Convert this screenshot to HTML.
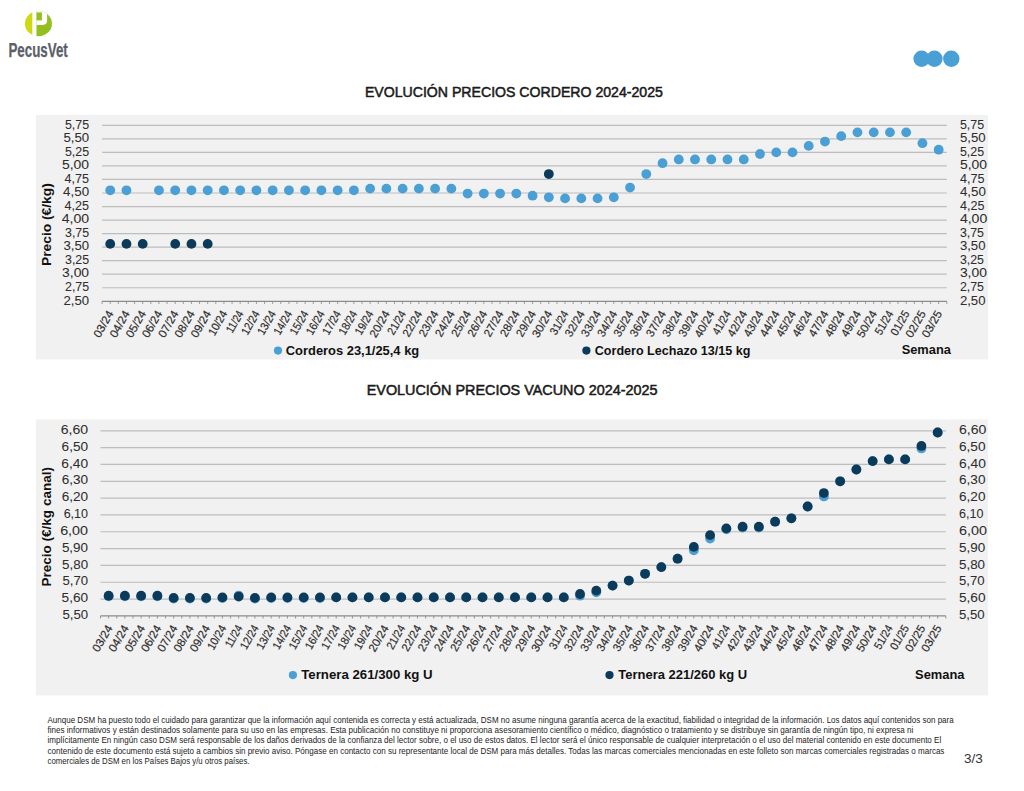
<!DOCTYPE html>
<html><head><meta charset="utf-8"><title>PecusVet</title>
<style>html,body{margin:0;padding:0;background:#fff;width:1024px;height:791px;overflow:hidden;}</style>
</head><body>
<svg width="1024" height="791" viewBox="0 0 1024 791" style="position:absolute;left:0;top:0" font-family="'Liberation Sans', sans-serif">
<rect width="1024" height="791" fill="#ffffff"/>
<defs><clipPath id="lc"><ellipse cx="38.45" cy="23.7" rx="13.5" ry="12.6"/></clipPath></defs>
<g clip-path="url(#lc)">
<rect x="20" y="5" width="12.3" height="40" fill="#cfd90f"/>
<rect x="36.5" y="5" width="20" height="40" fill="#93c020"/>
<path d="M36.5 5 H47.1 V20.5 Q47.1 24.9 42.7 24.9 H36.5 Z" fill="#ffffff"/>
<rect x="36.5" y="12.4" width="5.4" height="8" fill="#93c020"/>
</g>
<text x="8.4" y="56.6" font-size="20" font-weight="bold" fill="#5b6068" stroke="#5b6068" stroke-width="0.25" textLength="59.4" lengthAdjust="spacingAndGlyphs">PecusVet</text>
<circle cx="921.6" cy="58.8" r="8.2" fill="#4a9fd4"/>
<circle cx="934.4" cy="58.8" r="8.2" fill="#4a9fd4"/>
<circle cx="951.3" cy="58.8" r="8.2" fill="#4a9fd4"/>
<text x="364.90" y="96.60" font-size="14" font-weight="normal" text-anchor="start" fill="#1a1a1a" textLength="298" lengthAdjust="spacingAndGlyphs" stroke="#1a1a1a" stroke-width="0.5">EVOLUCIÓN PRECIOS CORDERO 2024-2025</text>
<text x="366.70" y="394.60" font-size="14" font-weight="normal" text-anchor="start" fill="#1a1a1a" textLength="290.8" lengthAdjust="spacingAndGlyphs" stroke="#1a1a1a" stroke-width="0.5">EVOLUCIÓN PRECIOS VACUNO 2024-2025</text>
<rect x="36" y="115" width="952" height="244.5" fill="#f1f1f1"/>
<line x1="102.10" y1="287.76" x2="946.80" y2="287.76" stroke="#bdbdbd" stroke-width="1.2"/>
<line x1="102.10" y1="274.22" x2="946.80" y2="274.22" stroke="#bdbdbd" stroke-width="1.2"/>
<line x1="102.10" y1="260.68" x2="946.80" y2="260.68" stroke="#bdbdbd" stroke-width="1.2"/>
<line x1="102.10" y1="247.15" x2="946.80" y2="247.15" stroke="#bdbdbd" stroke-width="1.2"/>
<line x1="102.10" y1="233.61" x2="946.80" y2="233.61" stroke="#bdbdbd" stroke-width="1.2"/>
<line x1="102.10" y1="220.07" x2="946.80" y2="220.07" stroke="#bdbdbd" stroke-width="1.2"/>
<line x1="102.10" y1="206.53" x2="946.80" y2="206.53" stroke="#bdbdbd" stroke-width="1.2"/>
<line x1="102.10" y1="192.99" x2="946.80" y2="192.99" stroke="#bdbdbd" stroke-width="1.2"/>
<line x1="102.10" y1="179.45" x2="946.80" y2="179.45" stroke="#bdbdbd" stroke-width="1.2"/>
<line x1="102.10" y1="165.92" x2="946.80" y2="165.92" stroke="#bdbdbd" stroke-width="1.2"/>
<line x1="102.10" y1="152.38" x2="946.80" y2="152.38" stroke="#bdbdbd" stroke-width="1.2"/>
<line x1="102.10" y1="138.84" x2="946.80" y2="138.84" stroke="#bdbdbd" stroke-width="1.2"/>
<line x1="102.10" y1="125.30" x2="946.80" y2="125.30" stroke="#bdbdbd" stroke-width="1.2"/>
<line x1="102.10" y1="301.30" x2="946.80" y2="301.30" stroke="#8c8c8c" stroke-width="1.2"/>
<path d="M102.10 301.30v2.6 M110.22 301.30v2.6 M118.34 301.30v2.6 M126.47 301.30v2.6 M134.59 301.30v2.6 M142.71 301.30v2.6 M150.83 301.30v2.6 M158.95 301.30v2.6 M167.08 301.30v2.6 M175.20 301.30v2.6 M183.32 301.30v2.6 M191.44 301.30v2.6 M199.57 301.30v2.6 M207.69 301.30v2.6 M215.81 301.30v2.6 M223.93 301.30v2.6 M232.05 301.30v2.6 M240.18 301.30v2.6 M248.30 301.30v2.6 M256.42 301.30v2.6 M264.54 301.30v2.6 M272.66 301.30v2.6 M280.79 301.30v2.6 M288.91 301.30v2.6 M297.03 301.30v2.6 M305.15 301.30v2.6 M313.27 301.30v2.6 M321.40 301.30v2.6 M329.52 301.30v2.6 M337.64 301.30v2.6 M345.76 301.30v2.6 M353.89 301.30v2.6 M362.01 301.30v2.6 M370.13 301.30v2.6 M378.25 301.30v2.6 M386.37 301.30v2.6 M394.50 301.30v2.6 M402.62 301.30v2.6 M410.74 301.30v2.6 M418.86 301.30v2.6 M426.98 301.30v2.6 M435.11 301.30v2.6 M443.23 301.30v2.6 M451.35 301.30v2.6 M459.47 301.30v2.6 M467.60 301.30v2.6 M475.72 301.30v2.6 M483.84 301.30v2.6 M491.96 301.30v2.6 M500.08 301.30v2.6 M508.21 301.30v2.6 M516.33 301.30v2.6 M524.45 301.30v2.6 M532.57 301.30v2.6 M540.69 301.30v2.6 M548.82 301.30v2.6 M556.94 301.30v2.6 M565.06 301.30v2.6 M573.18 301.30v2.6 M581.30 301.30v2.6 M589.43 301.30v2.6 M597.55 301.30v2.6 M605.67 301.30v2.6 M613.79 301.30v2.6 M621.92 301.30v2.6 M630.04 301.30v2.6 M638.16 301.30v2.6 M646.28 301.30v2.6 M654.40 301.30v2.6 M662.53 301.30v2.6 M670.65 301.30v2.6 M678.77 301.30v2.6 M686.89 301.30v2.6 M695.01 301.30v2.6 M703.14 301.30v2.6 M711.26 301.30v2.6 M719.38 301.30v2.6 M727.50 301.30v2.6 M735.62 301.30v2.6 M743.75 301.30v2.6 M751.87 301.30v2.6 M759.99 301.30v2.6 M768.11 301.30v2.6 M776.24 301.30v2.6 M784.36 301.30v2.6 M792.48 301.30v2.6 M800.60 301.30v2.6 M808.72 301.30v2.6 M816.85 301.30v2.6 M824.97 301.30v2.6 M833.09 301.30v2.6 M841.21 301.30v2.6 M849.33 301.30v2.6 M857.46 301.30v2.6 M865.58 301.30v2.6 M873.70 301.30v2.6 M881.82 301.30v2.6 M889.95 301.30v2.6 M898.07 301.30v2.6 M906.19 301.30v2.6 M914.31 301.30v2.6 M922.43 301.30v2.6 M930.56 301.30v2.6 M938.68 301.30v2.6 M946.80 301.30v2.6" stroke="#8c8c8c" stroke-width="0.9" fill="none"/>
<text x="89.10" y="304.50" font-size="12.5" font-weight="normal" text-anchor="end" fill="#2e2e2e" textLength="25.6" lengthAdjust="spacingAndGlyphs" stroke="#2e2e2e" stroke-width="0.05">2,50</text>
<text x="959.90" y="304.50" font-size="12.5" font-weight="normal" text-anchor="start" fill="#2e2e2e" textLength="25.6" lengthAdjust="spacingAndGlyphs" stroke="#2e2e2e" stroke-width="0.05">2,50</text>
<text x="89.10" y="290.96" font-size="12.5" font-weight="normal" text-anchor="end" fill="#2e2e2e" textLength="24.1" lengthAdjust="spacingAndGlyphs" stroke="#2e2e2e" stroke-width="0.05">2,75</text>
<text x="959.90" y="290.96" font-size="12.5" font-weight="normal" text-anchor="start" fill="#2e2e2e" textLength="24.1" lengthAdjust="spacingAndGlyphs" stroke="#2e2e2e" stroke-width="0.05">2,75</text>
<text x="89.10" y="277.42" font-size="12.5" font-weight="normal" text-anchor="end" fill="#2e2e2e" textLength="27.0" lengthAdjust="spacingAndGlyphs" stroke="#2e2e2e" stroke-width="0.05">3,00</text>
<text x="959.90" y="277.42" font-size="12.5" font-weight="normal" text-anchor="start" fill="#2e2e2e" textLength="27.0" lengthAdjust="spacingAndGlyphs" stroke="#2e2e2e" stroke-width="0.05">3,00</text>
<text x="89.10" y="263.88" font-size="12.5" font-weight="normal" text-anchor="end" fill="#2e2e2e" textLength="24.1" lengthAdjust="spacingAndGlyphs" stroke="#2e2e2e" stroke-width="0.05">3,25</text>
<text x="959.90" y="263.88" font-size="12.5" font-weight="normal" text-anchor="start" fill="#2e2e2e" textLength="24.1" lengthAdjust="spacingAndGlyphs" stroke="#2e2e2e" stroke-width="0.05">3,25</text>
<text x="89.10" y="250.35" font-size="12.5" font-weight="normal" text-anchor="end" fill="#2e2e2e" textLength="25.6" lengthAdjust="spacingAndGlyphs" stroke="#2e2e2e" stroke-width="0.05">3,50</text>
<text x="959.90" y="250.35" font-size="12.5" font-weight="normal" text-anchor="start" fill="#2e2e2e" textLength="25.6" lengthAdjust="spacingAndGlyphs" stroke="#2e2e2e" stroke-width="0.05">3,50</text>
<text x="89.10" y="236.81" font-size="12.5" font-weight="normal" text-anchor="end" fill="#2e2e2e" textLength="24.1" lengthAdjust="spacingAndGlyphs" stroke="#2e2e2e" stroke-width="0.05">3,75</text>
<text x="959.90" y="236.81" font-size="12.5" font-weight="normal" text-anchor="start" fill="#2e2e2e" textLength="24.1" lengthAdjust="spacingAndGlyphs" stroke="#2e2e2e" stroke-width="0.05">3,75</text>
<text x="89.10" y="223.27" font-size="12.5" font-weight="normal" text-anchor="end" fill="#2e2e2e" textLength="27.4" lengthAdjust="spacingAndGlyphs" stroke="#2e2e2e" stroke-width="0.05">4,00</text>
<text x="959.90" y="223.27" font-size="12.5" font-weight="normal" text-anchor="start" fill="#2e2e2e" textLength="27.4" lengthAdjust="spacingAndGlyphs" stroke="#2e2e2e" stroke-width="0.05">4,00</text>
<text x="89.10" y="209.73" font-size="12.5" font-weight="normal" text-anchor="end" fill="#2e2e2e" textLength="24.5" lengthAdjust="spacingAndGlyphs" stroke="#2e2e2e" stroke-width="0.05">4,25</text>
<text x="959.90" y="209.73" font-size="12.5" font-weight="normal" text-anchor="start" fill="#2e2e2e" textLength="24.5" lengthAdjust="spacingAndGlyphs" stroke="#2e2e2e" stroke-width="0.05">4,25</text>
<text x="89.10" y="196.19" font-size="12.5" font-weight="normal" text-anchor="end" fill="#2e2e2e" textLength="26.0" lengthAdjust="spacingAndGlyphs" stroke="#2e2e2e" stroke-width="0.05">4,50</text>
<text x="959.90" y="196.19" font-size="12.5" font-weight="normal" text-anchor="start" fill="#2e2e2e" textLength="26.0" lengthAdjust="spacingAndGlyphs" stroke="#2e2e2e" stroke-width="0.05">4,50</text>
<text x="89.10" y="182.65" font-size="12.5" font-weight="normal" text-anchor="end" fill="#2e2e2e" textLength="24.5" lengthAdjust="spacingAndGlyphs" stroke="#2e2e2e" stroke-width="0.05">4,75</text>
<text x="959.90" y="182.65" font-size="12.5" font-weight="normal" text-anchor="start" fill="#2e2e2e" textLength="24.5" lengthAdjust="spacingAndGlyphs" stroke="#2e2e2e" stroke-width="0.05">4,75</text>
<text x="89.10" y="169.12" font-size="12.5" font-weight="normal" text-anchor="end" fill="#2e2e2e" textLength="27.1" lengthAdjust="spacingAndGlyphs" stroke="#2e2e2e" stroke-width="0.05">5,00</text>
<text x="959.90" y="169.12" font-size="12.5" font-weight="normal" text-anchor="start" fill="#2e2e2e" textLength="27.1" lengthAdjust="spacingAndGlyphs" stroke="#2e2e2e" stroke-width="0.05">5,00</text>
<text x="89.10" y="155.58" font-size="12.5" font-weight="normal" text-anchor="end" fill="#2e2e2e" textLength="24.2" lengthAdjust="spacingAndGlyphs" stroke="#2e2e2e" stroke-width="0.05">5,25</text>
<text x="959.90" y="155.58" font-size="12.5" font-weight="normal" text-anchor="start" fill="#2e2e2e" textLength="24.2" lengthAdjust="spacingAndGlyphs" stroke="#2e2e2e" stroke-width="0.05">5,25</text>
<text x="89.10" y="142.04" font-size="12.5" font-weight="normal" text-anchor="end" fill="#2e2e2e" textLength="25.7" lengthAdjust="spacingAndGlyphs" stroke="#2e2e2e" stroke-width="0.05">5,50</text>
<text x="959.90" y="142.04" font-size="12.5" font-weight="normal" text-anchor="start" fill="#2e2e2e" textLength="25.7" lengthAdjust="spacingAndGlyphs" stroke="#2e2e2e" stroke-width="0.05">5,50</text>
<text x="89.10" y="128.50" font-size="12.5" font-weight="normal" text-anchor="end" fill="#2e2e2e" textLength="24.2" lengthAdjust="spacingAndGlyphs" stroke="#2e2e2e" stroke-width="0.05">5,75</text>
<text x="959.90" y="128.50" font-size="12.5" font-weight="normal" text-anchor="start" fill="#2e2e2e" textLength="24.2" lengthAdjust="spacingAndGlyphs" stroke="#2e2e2e" stroke-width="0.05">5,75</text>
<text transform="translate(106.92,309.40) rotate(-60)" x="0" y="8.2" font-size="11.5" text-anchor="end" fill="#2e2e2e" stroke="#2e2e2e" stroke-width="0.2" textLength="28.8" lengthAdjust="spacingAndGlyphs">03/24</text>
<text transform="translate(123.17,309.40) rotate(-60)" x="0" y="8.2" font-size="11.5" text-anchor="end" fill="#2e2e2e" stroke="#2e2e2e" stroke-width="0.2" textLength="28.8" lengthAdjust="spacingAndGlyphs">04/24</text>
<text transform="translate(139.41,309.40) rotate(-60)" x="0" y="8.2" font-size="11.5" text-anchor="end" fill="#2e2e2e" stroke="#2e2e2e" stroke-width="0.2" textLength="28.8" lengthAdjust="spacingAndGlyphs">05/24</text>
<text transform="translate(155.65,309.40) rotate(-60)" x="0" y="8.2" font-size="11.5" text-anchor="end" fill="#2e2e2e" stroke="#2e2e2e" stroke-width="0.2" textLength="28.8" lengthAdjust="spacingAndGlyphs">06/24</text>
<text transform="translate(171.90,309.40) rotate(-60)" x="0" y="8.2" font-size="11.5" text-anchor="end" fill="#2e2e2e" stroke="#2e2e2e" stroke-width="0.2" textLength="28.8" lengthAdjust="spacingAndGlyphs">07/24</text>
<text transform="translate(188.14,309.40) rotate(-60)" x="0" y="8.2" font-size="11.5" text-anchor="end" fill="#2e2e2e" stroke="#2e2e2e" stroke-width="0.2" textLength="28.8" lengthAdjust="spacingAndGlyphs">08/24</text>
<text transform="translate(204.39,309.40) rotate(-60)" x="0" y="8.2" font-size="11.5" text-anchor="end" fill="#2e2e2e" stroke="#2e2e2e" stroke-width="0.2" textLength="28.8" lengthAdjust="spacingAndGlyphs">09/24</text>
<text transform="translate(220.63,309.40) rotate(-60)" x="0" y="8.2" font-size="11.5" text-anchor="end" fill="#2e2e2e" stroke="#2e2e2e" stroke-width="0.2" textLength="26.5" lengthAdjust="spacingAndGlyphs">10/24</text>
<text transform="translate(236.88,309.40) rotate(-60)" x="0" y="8.2" font-size="11.5" text-anchor="end" fill="#2e2e2e" stroke="#2e2e2e" stroke-width="0.2" textLength="23.4" lengthAdjust="spacingAndGlyphs">11/24</text>
<text transform="translate(253.12,309.40) rotate(-60)" x="0" y="8.2" font-size="11.5" text-anchor="end" fill="#2e2e2e" stroke="#2e2e2e" stroke-width="0.2" textLength="25.7" lengthAdjust="spacingAndGlyphs">12/24</text>
<text transform="translate(269.36,309.40) rotate(-60)" x="0" y="8.2" font-size="11.5" text-anchor="end" fill="#2e2e2e" stroke="#2e2e2e" stroke-width="0.2" textLength="25.7" lengthAdjust="spacingAndGlyphs">13/24</text>
<text transform="translate(285.61,309.40) rotate(-60)" x="0" y="8.2" font-size="11.5" text-anchor="end" fill="#2e2e2e" stroke="#2e2e2e" stroke-width="0.2" textLength="25.7" lengthAdjust="spacingAndGlyphs">14/24</text>
<text transform="translate(301.85,309.40) rotate(-60)" x="0" y="8.2" font-size="11.5" text-anchor="end" fill="#2e2e2e" stroke="#2e2e2e" stroke-width="0.2" textLength="25.7" lengthAdjust="spacingAndGlyphs">15/24</text>
<text transform="translate(318.10,309.40) rotate(-60)" x="0" y="8.2" font-size="11.5" text-anchor="end" fill="#2e2e2e" stroke="#2e2e2e" stroke-width="0.2" textLength="25.7" lengthAdjust="spacingAndGlyphs">16/24</text>
<text transform="translate(334.34,309.40) rotate(-60)" x="0" y="8.2" font-size="11.5" text-anchor="end" fill="#2e2e2e" stroke="#2e2e2e" stroke-width="0.2" textLength="25.7" lengthAdjust="spacingAndGlyphs">17/24</text>
<text transform="translate(350.59,309.40) rotate(-60)" x="0" y="8.2" font-size="11.5" text-anchor="end" fill="#2e2e2e" stroke="#2e2e2e" stroke-width="0.2" textLength="25.7" lengthAdjust="spacingAndGlyphs">18/24</text>
<text transform="translate(366.83,309.40) rotate(-60)" x="0" y="8.2" font-size="11.5" text-anchor="end" fill="#2e2e2e" stroke="#2e2e2e" stroke-width="0.2" textLength="25.7" lengthAdjust="spacingAndGlyphs">19/24</text>
<text transform="translate(383.07,309.40) rotate(-60)" x="0" y="8.2" font-size="11.5" text-anchor="end" fill="#2e2e2e" stroke="#2e2e2e" stroke-width="0.2" textLength="28.8" lengthAdjust="spacingAndGlyphs">20/24</text>
<text transform="translate(399.32,309.40) rotate(-60)" x="0" y="8.2" font-size="11.5" text-anchor="end" fill="#2e2e2e" stroke="#2e2e2e" stroke-width="0.2" textLength="25.7" lengthAdjust="spacingAndGlyphs">21/24</text>
<text transform="translate(415.56,309.40) rotate(-60)" x="0" y="8.2" font-size="11.5" text-anchor="end" fill="#2e2e2e" stroke="#2e2e2e" stroke-width="0.2" textLength="28.0" lengthAdjust="spacingAndGlyphs">22/24</text>
<text transform="translate(431.81,309.40) rotate(-60)" x="0" y="8.2" font-size="11.5" text-anchor="end" fill="#2e2e2e" stroke="#2e2e2e" stroke-width="0.2" textLength="28.0" lengthAdjust="spacingAndGlyphs">23/24</text>
<text transform="translate(448.05,309.40) rotate(-60)" x="0" y="8.2" font-size="11.5" text-anchor="end" fill="#2e2e2e" stroke="#2e2e2e" stroke-width="0.2" textLength="28.0" lengthAdjust="spacingAndGlyphs">24/24</text>
<text transform="translate(464.30,309.40) rotate(-60)" x="0" y="8.2" font-size="11.5" text-anchor="end" fill="#2e2e2e" stroke="#2e2e2e" stroke-width="0.2" textLength="28.0" lengthAdjust="spacingAndGlyphs">25/24</text>
<text transform="translate(480.54,309.40) rotate(-60)" x="0" y="8.2" font-size="11.5" text-anchor="end" fill="#2e2e2e" stroke="#2e2e2e" stroke-width="0.2" textLength="28.0" lengthAdjust="spacingAndGlyphs">26/24</text>
<text transform="translate(496.78,309.40) rotate(-60)" x="0" y="8.2" font-size="11.5" text-anchor="end" fill="#2e2e2e" stroke="#2e2e2e" stroke-width="0.2" textLength="28.0" lengthAdjust="spacingAndGlyphs">27/24</text>
<text transform="translate(513.03,309.40) rotate(-60)" x="0" y="8.2" font-size="11.5" text-anchor="end" fill="#2e2e2e" stroke="#2e2e2e" stroke-width="0.2" textLength="28.0" lengthAdjust="spacingAndGlyphs">28/24</text>
<text transform="translate(529.27,309.40) rotate(-60)" x="0" y="8.2" font-size="11.5" text-anchor="end" fill="#2e2e2e" stroke="#2e2e2e" stroke-width="0.2" textLength="28.0" lengthAdjust="spacingAndGlyphs">29/24</text>
<text transform="translate(545.52,309.40) rotate(-60)" x="0" y="8.2" font-size="11.5" text-anchor="end" fill="#2e2e2e" stroke="#2e2e2e" stroke-width="0.2" textLength="28.8" lengthAdjust="spacingAndGlyphs">30/24</text>
<text transform="translate(561.76,309.40) rotate(-60)" x="0" y="8.2" font-size="11.5" text-anchor="end" fill="#2e2e2e" stroke="#2e2e2e" stroke-width="0.2" textLength="25.7" lengthAdjust="spacingAndGlyphs">31/24</text>
<text transform="translate(578.00,309.40) rotate(-60)" x="0" y="8.2" font-size="11.5" text-anchor="end" fill="#2e2e2e" stroke="#2e2e2e" stroke-width="0.2" textLength="28.0" lengthAdjust="spacingAndGlyphs">32/24</text>
<text transform="translate(594.25,309.40) rotate(-60)" x="0" y="8.2" font-size="11.5" text-anchor="end" fill="#2e2e2e" stroke="#2e2e2e" stroke-width="0.2" textLength="28.0" lengthAdjust="spacingAndGlyphs">33/24</text>
<text transform="translate(610.49,309.40) rotate(-60)" x="0" y="8.2" font-size="11.5" text-anchor="end" fill="#2e2e2e" stroke="#2e2e2e" stroke-width="0.2" textLength="28.0" lengthAdjust="spacingAndGlyphs">34/24</text>
<text transform="translate(626.74,309.40) rotate(-60)" x="0" y="8.2" font-size="11.5" text-anchor="end" fill="#2e2e2e" stroke="#2e2e2e" stroke-width="0.2" textLength="28.0" lengthAdjust="spacingAndGlyphs">35/24</text>
<text transform="translate(642.98,309.40) rotate(-60)" x="0" y="8.2" font-size="11.5" text-anchor="end" fill="#2e2e2e" stroke="#2e2e2e" stroke-width="0.2" textLength="28.0" lengthAdjust="spacingAndGlyphs">36/24</text>
<text transform="translate(659.23,309.40) rotate(-60)" x="0" y="8.2" font-size="11.5" text-anchor="end" fill="#2e2e2e" stroke="#2e2e2e" stroke-width="0.2" textLength="28.0" lengthAdjust="spacingAndGlyphs">37/24</text>
<text transform="translate(675.47,309.40) rotate(-60)" x="0" y="8.2" font-size="11.5" text-anchor="end" fill="#2e2e2e" stroke="#2e2e2e" stroke-width="0.2" textLength="28.0" lengthAdjust="spacingAndGlyphs">38/24</text>
<text transform="translate(691.71,309.40) rotate(-60)" x="0" y="8.2" font-size="11.5" text-anchor="end" fill="#2e2e2e" stroke="#2e2e2e" stroke-width="0.2" textLength="28.0" lengthAdjust="spacingAndGlyphs">39/24</text>
<text transform="translate(707.96,309.40) rotate(-60)" x="0" y="8.2" font-size="11.5" text-anchor="end" fill="#2e2e2e" stroke="#2e2e2e" stroke-width="0.2" textLength="28.8" lengthAdjust="spacingAndGlyphs">40/24</text>
<text transform="translate(724.20,309.40) rotate(-60)" x="0" y="8.2" font-size="11.5" text-anchor="end" fill="#2e2e2e" stroke="#2e2e2e" stroke-width="0.2" textLength="25.7" lengthAdjust="spacingAndGlyphs">41/24</text>
<text transform="translate(740.45,309.40) rotate(-60)" x="0" y="8.2" font-size="11.5" text-anchor="end" fill="#2e2e2e" stroke="#2e2e2e" stroke-width="0.2" textLength="28.0" lengthAdjust="spacingAndGlyphs">42/24</text>
<text transform="translate(756.69,309.40) rotate(-60)" x="0" y="8.2" font-size="11.5" text-anchor="end" fill="#2e2e2e" stroke="#2e2e2e" stroke-width="0.2" textLength="28.0" lengthAdjust="spacingAndGlyphs">43/24</text>
<text transform="translate(772.94,309.40) rotate(-60)" x="0" y="8.2" font-size="11.5" text-anchor="end" fill="#2e2e2e" stroke="#2e2e2e" stroke-width="0.2" textLength="28.0" lengthAdjust="spacingAndGlyphs">44/24</text>
<text transform="translate(789.18,309.40) rotate(-60)" x="0" y="8.2" font-size="11.5" text-anchor="end" fill="#2e2e2e" stroke="#2e2e2e" stroke-width="0.2" textLength="28.0" lengthAdjust="spacingAndGlyphs">45/24</text>
<text transform="translate(805.42,309.40) rotate(-60)" x="0" y="8.2" font-size="11.5" text-anchor="end" fill="#2e2e2e" stroke="#2e2e2e" stroke-width="0.2" textLength="28.0" lengthAdjust="spacingAndGlyphs">46/24</text>
<text transform="translate(821.67,309.40) rotate(-60)" x="0" y="8.2" font-size="11.5" text-anchor="end" fill="#2e2e2e" stroke="#2e2e2e" stroke-width="0.2" textLength="28.0" lengthAdjust="spacingAndGlyphs">47/24</text>
<text transform="translate(837.91,309.40) rotate(-60)" x="0" y="8.2" font-size="11.5" text-anchor="end" fill="#2e2e2e" stroke="#2e2e2e" stroke-width="0.2" textLength="28.0" lengthAdjust="spacingAndGlyphs">48/24</text>
<text transform="translate(854.16,309.40) rotate(-60)" x="0" y="8.2" font-size="11.5" text-anchor="end" fill="#2e2e2e" stroke="#2e2e2e" stroke-width="0.2" textLength="28.0" lengthAdjust="spacingAndGlyphs">49/24</text>
<text transform="translate(870.40,309.40) rotate(-60)" x="0" y="8.2" font-size="11.5" text-anchor="end" fill="#2e2e2e" stroke="#2e2e2e" stroke-width="0.2" textLength="28.8" lengthAdjust="spacingAndGlyphs">50/24</text>
<text transform="translate(886.65,309.40) rotate(-60)" x="0" y="8.2" font-size="11.5" text-anchor="end" fill="#2e2e2e" stroke="#2e2e2e" stroke-width="0.2" textLength="25.7" lengthAdjust="spacingAndGlyphs">51/24</text>
<text transform="translate(902.89,309.40) rotate(-60)" x="0" y="8.2" font-size="11.5" text-anchor="end" fill="#2e2e2e" stroke="#2e2e2e" stroke-width="0.2" textLength="26.5" lengthAdjust="spacingAndGlyphs">01/25</text>
<text transform="translate(919.13,309.40) rotate(-60)" x="0" y="8.2" font-size="11.5" text-anchor="end" fill="#2e2e2e" stroke="#2e2e2e" stroke-width="0.2" textLength="28.8" lengthAdjust="spacingAndGlyphs">02/25</text>
<text transform="translate(935.38,309.40) rotate(-60)" x="0" y="8.2" font-size="11.5" text-anchor="end" fill="#2e2e2e" stroke="#2e2e2e" stroke-width="0.2" textLength="28.8" lengthAdjust="spacingAndGlyphs">03/25</text>
<circle cx="110.22" cy="190.28" r="4.9" fill="#4a9fd4"/>
<circle cx="126.47" cy="190.28" r="4.9" fill="#4a9fd4"/>
<circle cx="158.95" cy="190.28" r="4.9" fill="#4a9fd4"/>
<circle cx="175.20" cy="190.28" r="4.9" fill="#4a9fd4"/>
<circle cx="191.44" cy="190.28" r="4.9" fill="#4a9fd4"/>
<circle cx="207.69" cy="190.28" r="4.9" fill="#4a9fd4"/>
<circle cx="223.93" cy="190.28" r="4.9" fill="#4a9fd4"/>
<circle cx="240.18" cy="190.28" r="4.9" fill="#4a9fd4"/>
<circle cx="256.42" cy="190.28" r="4.9" fill="#4a9fd4"/>
<circle cx="272.66" cy="190.28" r="4.9" fill="#4a9fd4"/>
<circle cx="288.91" cy="190.28" r="4.9" fill="#4a9fd4"/>
<circle cx="305.15" cy="190.28" r="4.9" fill="#4a9fd4"/>
<circle cx="321.40" cy="190.28" r="4.9" fill="#4a9fd4"/>
<circle cx="337.64" cy="190.28" r="4.9" fill="#4a9fd4"/>
<circle cx="353.89" cy="190.28" r="4.9" fill="#4a9fd4"/>
<circle cx="370.13" cy="188.66" r="4.9" fill="#4a9fd4"/>
<circle cx="386.37" cy="188.66" r="4.9" fill="#4a9fd4"/>
<circle cx="402.62" cy="188.66" r="4.9" fill="#4a9fd4"/>
<circle cx="418.86" cy="188.66" r="4.9" fill="#4a9fd4"/>
<circle cx="435.11" cy="188.66" r="4.9" fill="#4a9fd4"/>
<circle cx="451.35" cy="188.66" r="4.9" fill="#4a9fd4"/>
<circle cx="467.60" cy="193.53" r="4.9" fill="#4a9fd4"/>
<circle cx="483.84" cy="193.53" r="4.9" fill="#4a9fd4"/>
<circle cx="500.08" cy="193.53" r="4.9" fill="#4a9fd4"/>
<circle cx="516.33" cy="193.53" r="4.9" fill="#4a9fd4"/>
<circle cx="532.57" cy="195.70" r="4.9" fill="#4a9fd4"/>
<circle cx="548.82" cy="197.32" r="4.9" fill="#4a9fd4"/>
<circle cx="565.06" cy="198.41" r="4.9" fill="#4a9fd4"/>
<circle cx="581.30" cy="198.41" r="4.9" fill="#4a9fd4"/>
<circle cx="597.55" cy="198.41" r="4.9" fill="#4a9fd4"/>
<circle cx="613.79" cy="197.32" r="4.9" fill="#4a9fd4"/>
<circle cx="630.04" cy="187.58" r="4.9" fill="#4a9fd4"/>
<circle cx="646.28" cy="174.04" r="4.9" fill="#4a9fd4"/>
<circle cx="662.53" cy="163.21" r="4.9" fill="#4a9fd4"/>
<circle cx="678.77" cy="159.42" r="4.9" fill="#4a9fd4"/>
<circle cx="695.01" cy="159.42" r="4.9" fill="#4a9fd4"/>
<circle cx="711.26" cy="159.42" r="4.9" fill="#4a9fd4"/>
<circle cx="727.50" cy="159.42" r="4.9" fill="#4a9fd4"/>
<circle cx="743.75" cy="159.42" r="4.9" fill="#4a9fd4"/>
<circle cx="759.99" cy="154.00" r="4.9" fill="#4a9fd4"/>
<circle cx="776.24" cy="152.38" r="4.9" fill="#4a9fd4"/>
<circle cx="792.48" cy="152.38" r="4.9" fill="#4a9fd4"/>
<circle cx="808.72" cy="145.88" r="4.9" fill="#4a9fd4"/>
<circle cx="824.97" cy="141.55" r="4.9" fill="#4a9fd4"/>
<circle cx="841.21" cy="136.13" r="4.9" fill="#4a9fd4"/>
<circle cx="857.46" cy="132.34" r="4.9" fill="#4a9fd4"/>
<circle cx="873.70" cy="132.34" r="4.9" fill="#4a9fd4"/>
<circle cx="889.95" cy="132.34" r="4.9" fill="#4a9fd4"/>
<circle cx="906.19" cy="132.34" r="4.9" fill="#4a9fd4"/>
<circle cx="922.43" cy="143.17" r="4.9" fill="#4a9fd4"/>
<circle cx="938.68" cy="149.67" r="4.9" fill="#4a9fd4"/>
<circle cx="110.22" cy="243.90" r="4.9" fill="#0c3a5a"/>
<circle cx="126.47" cy="243.90" r="4.9" fill="#0c3a5a"/>
<circle cx="142.71" cy="243.90" r="4.9" fill="#0c3a5a"/>
<circle cx="175.20" cy="243.90" r="4.9" fill="#0c3a5a"/>
<circle cx="191.44" cy="243.90" r="4.9" fill="#0c3a5a"/>
<circle cx="207.69" cy="243.90" r="4.9" fill="#0c3a5a"/>
<circle cx="548.82" cy="174.04" r="4.9" fill="#0c3a5a"/>
<text transform="translate(50.50,224.60) rotate(-90)" x="0" y="0" font-size="12.5" font-weight="bold" text-anchor="middle" fill="#111" textLength="82.8" lengthAdjust="spacingAndGlyphs">Precio (€/kg)</text>
<circle cx="278" cy="350.6" r="4.1" fill="#4a9fd4"/>
<text x="285.80" y="355.00" font-size="12.5" font-weight="bold" text-anchor="start" fill="#111" textLength="133.4" lengthAdjust="spacingAndGlyphs" >Corderos 23,1/25,4 kg</text>
<circle cx="586.4" cy="350.6" r="4.1" fill="#0c3a5a"/>
<text x="594.80" y="355.00" font-size="12.5" font-weight="bold" text-anchor="start" fill="#111" textLength="155.6" lengthAdjust="spacingAndGlyphs" >Cordero Lechazo 13/15 kg</text>
<text x="901.70" y="354.00" font-size="12.5" font-weight="bold" text-anchor="start" fill="#111" textLength="49.2" lengthAdjust="spacingAndGlyphs" >Semana</text>
<rect x="36" y="419.5" width="952" height="275.9" fill="#f1f1f1"/>
<line x1="100.50" y1="599.07" x2="945.80" y2="599.07" stroke="#bdbdbd" stroke-width="1.2"/>
<line x1="100.50" y1="582.25" x2="945.80" y2="582.25" stroke="#bdbdbd" stroke-width="1.2"/>
<line x1="100.50" y1="565.42" x2="945.80" y2="565.42" stroke="#bdbdbd" stroke-width="1.2"/>
<line x1="100.50" y1="548.59" x2="945.80" y2="548.59" stroke="#bdbdbd" stroke-width="1.2"/>
<line x1="100.50" y1="531.76" x2="945.80" y2="531.76" stroke="#bdbdbd" stroke-width="1.2"/>
<line x1="100.50" y1="514.94" x2="945.80" y2="514.94" stroke="#bdbdbd" stroke-width="1.2"/>
<line x1="100.50" y1="498.11" x2="945.80" y2="498.11" stroke="#bdbdbd" stroke-width="1.2"/>
<line x1="100.50" y1="481.28" x2="945.80" y2="481.28" stroke="#bdbdbd" stroke-width="1.2"/>
<line x1="100.50" y1="464.45" x2="945.80" y2="464.45" stroke="#bdbdbd" stroke-width="1.2"/>
<line x1="100.50" y1="447.63" x2="945.80" y2="447.63" stroke="#bdbdbd" stroke-width="1.2"/>
<line x1="100.50" y1="430.80" x2="945.80" y2="430.80" stroke="#bdbdbd" stroke-width="1.2"/>
<line x1="100.50" y1="615.90" x2="945.80" y2="615.90" stroke="#8c8c8c" stroke-width="1.2"/>
<path d="M100.50 615.90v2.6 M108.63 615.90v2.6 M116.76 615.90v2.6 M124.88 615.90v2.6 M133.01 615.90v2.6 M141.14 615.90v2.6 M149.27 615.90v2.6 M157.40 615.90v2.6 M165.52 615.90v2.6 M173.65 615.90v2.6 M181.78 615.90v2.6 M189.91 615.90v2.6 M198.03 615.90v2.6 M206.16 615.90v2.6 M214.29 615.90v2.6 M222.42 615.90v2.6 M230.55 615.90v2.6 M238.67 615.90v2.6 M246.80 615.90v2.6 M254.93 615.90v2.6 M263.06 615.90v2.6 M271.19 615.90v2.6 M279.31 615.90v2.6 M287.44 615.90v2.6 M295.57 615.90v2.6 M303.70 615.90v2.6 M311.82 615.90v2.6 M319.95 615.90v2.6 M328.08 615.90v2.6 M336.21 615.90v2.6 M344.34 615.90v2.6 M352.46 615.90v2.6 M360.59 615.90v2.6 M368.72 615.90v2.6 M376.85 615.90v2.6 M384.98 615.90v2.6 M393.10 615.90v2.6 M401.23 615.90v2.6 M409.36 615.90v2.6 M417.49 615.90v2.6 M425.62 615.90v2.6 M433.74 615.90v2.6 M441.87 615.90v2.6 M450.00 615.90v2.6 M458.13 615.90v2.6 M466.25 615.90v2.6 M474.38 615.90v2.6 M482.51 615.90v2.6 M490.64 615.90v2.6 M498.77 615.90v2.6 M506.89 615.90v2.6 M515.02 615.90v2.6 M523.15 615.90v2.6 M531.28 615.90v2.6 M539.41 615.90v2.6 M547.53 615.90v2.6 M555.66 615.90v2.6 M563.79 615.90v2.6 M571.92 615.90v2.6 M580.05 615.90v2.6 M588.17 615.90v2.6 M596.30 615.90v2.6 M604.43 615.90v2.6 M612.56 615.90v2.6 M620.68 615.90v2.6 M628.81 615.90v2.6 M636.94 615.90v2.6 M645.07 615.90v2.6 M653.20 615.90v2.6 M661.32 615.90v2.6 M669.45 615.90v2.6 M677.58 615.90v2.6 M685.71 615.90v2.6 M693.84 615.90v2.6 M701.96 615.90v2.6 M710.09 615.90v2.6 M718.22 615.90v2.6 M726.35 615.90v2.6 M734.47 615.90v2.6 M742.60 615.90v2.6 M750.73 615.90v2.6 M758.86 615.90v2.6 M766.99 615.90v2.6 M775.11 615.90v2.6 M783.24 615.90v2.6 M791.37 615.90v2.6 M799.50 615.90v2.6 M807.63 615.90v2.6 M815.75 615.90v2.6 M823.88 615.90v2.6 M832.01 615.90v2.6 M840.14 615.90v2.6 M848.27 615.90v2.6 M856.39 615.90v2.6 M864.52 615.90v2.6 M872.65 615.90v2.6 M880.78 615.90v2.6 M888.90 615.90v2.6 M897.03 615.90v2.6 M905.16 615.90v2.6 M913.29 615.90v2.6 M921.42 615.90v2.6 M929.54 615.90v2.6 M937.67 615.90v2.6 M945.80 615.90v2.6" stroke="#8c8c8c" stroke-width="0.9" fill="none"/>
<text x="88.10" y="619.10" font-size="12.5" font-weight="normal" text-anchor="end" fill="#2e2e2e" textLength="25.7" lengthAdjust="spacingAndGlyphs" stroke="#2e2e2e" stroke-width="0.05">5,50</text>
<text x="959.00" y="619.10" font-size="12.5" font-weight="normal" text-anchor="start" fill="#2e2e2e" textLength="25.7" lengthAdjust="spacingAndGlyphs" stroke="#2e2e2e" stroke-width="0.05">5,50</text>
<text x="88.10" y="602.27" font-size="12.5" font-weight="normal" text-anchor="end" fill="#2e2e2e" textLength="26.55" lengthAdjust="spacingAndGlyphs" stroke="#2e2e2e" stroke-width="0.05">5,60</text>
<text x="959.00" y="602.27" font-size="12.5" font-weight="normal" text-anchor="start" fill="#2e2e2e" textLength="26.55" lengthAdjust="spacingAndGlyphs" stroke="#2e2e2e" stroke-width="0.05">5,60</text>
<text x="88.10" y="585.45" font-size="12.5" font-weight="normal" text-anchor="end" fill="#2e2e2e" textLength="25.6" lengthAdjust="spacingAndGlyphs" stroke="#2e2e2e" stroke-width="0.05">5,70</text>
<text x="959.00" y="585.45" font-size="12.5" font-weight="normal" text-anchor="start" fill="#2e2e2e" textLength="25.6" lengthAdjust="spacingAndGlyphs" stroke="#2e2e2e" stroke-width="0.05">5,70</text>
<text x="88.10" y="568.62" font-size="12.5" font-weight="normal" text-anchor="end" fill="#2e2e2e" textLength="26.0" lengthAdjust="spacingAndGlyphs" stroke="#2e2e2e" stroke-width="0.05">5,80</text>
<text x="959.00" y="568.62" font-size="12.5" font-weight="normal" text-anchor="start" fill="#2e2e2e" textLength="26.0" lengthAdjust="spacingAndGlyphs" stroke="#2e2e2e" stroke-width="0.05">5,80</text>
<text x="88.10" y="551.79" font-size="12.5" font-weight="normal" text-anchor="end" fill="#2e2e2e" textLength="26.2" lengthAdjust="spacingAndGlyphs" stroke="#2e2e2e" stroke-width="0.05">5,90</text>
<text x="959.00" y="551.79" font-size="12.5" font-weight="normal" text-anchor="start" fill="#2e2e2e" textLength="26.2" lengthAdjust="spacingAndGlyphs" stroke="#2e2e2e" stroke-width="0.05">5,90</text>
<text x="88.10" y="534.96" font-size="12.5" font-weight="normal" text-anchor="end" fill="#2e2e2e" textLength="27.95" lengthAdjust="spacingAndGlyphs" stroke="#2e2e2e" stroke-width="0.05">6,00</text>
<text x="959.00" y="534.96" font-size="12.5" font-weight="normal" text-anchor="start" fill="#2e2e2e" textLength="27.95" lengthAdjust="spacingAndGlyphs" stroke="#2e2e2e" stroke-width="0.05">6,00</text>
<text x="88.10" y="518.14" font-size="12.5" font-weight="normal" text-anchor="end" fill="#2e2e2e" textLength="24.45" lengthAdjust="spacingAndGlyphs" stroke="#2e2e2e" stroke-width="0.05">6,10</text>
<text x="959.00" y="518.14" font-size="12.5" font-weight="normal" text-anchor="start" fill="#2e2e2e" textLength="24.45" lengthAdjust="spacingAndGlyphs" stroke="#2e2e2e" stroke-width="0.05">6,10</text>
<text x="88.10" y="501.31" font-size="12.5" font-weight="normal" text-anchor="end" fill="#2e2e2e" textLength="26.45" lengthAdjust="spacingAndGlyphs" stroke="#2e2e2e" stroke-width="0.05">6,20</text>
<text x="959.00" y="501.31" font-size="12.5" font-weight="normal" text-anchor="start" fill="#2e2e2e" textLength="26.45" lengthAdjust="spacingAndGlyphs" stroke="#2e2e2e" stroke-width="0.05">6,20</text>
<text x="88.10" y="484.48" font-size="12.5" font-weight="normal" text-anchor="end" fill="#2e2e2e" textLength="26.45" lengthAdjust="spacingAndGlyphs" stroke="#2e2e2e" stroke-width="0.05">6,30</text>
<text x="959.00" y="484.48" font-size="12.5" font-weight="normal" text-anchor="start" fill="#2e2e2e" textLength="26.45" lengthAdjust="spacingAndGlyphs" stroke="#2e2e2e" stroke-width="0.05">6,30</text>
<text x="88.10" y="467.65" font-size="12.5" font-weight="normal" text-anchor="end" fill="#2e2e2e" textLength="26.85" lengthAdjust="spacingAndGlyphs" stroke="#2e2e2e" stroke-width="0.05">6,40</text>
<text x="959.00" y="467.65" font-size="12.5" font-weight="normal" text-anchor="start" fill="#2e2e2e" textLength="26.85" lengthAdjust="spacingAndGlyphs" stroke="#2e2e2e" stroke-width="0.05">6,40</text>
<text x="88.10" y="450.83" font-size="12.5" font-weight="normal" text-anchor="end" fill="#2e2e2e" textLength="26.55" lengthAdjust="spacingAndGlyphs" stroke="#2e2e2e" stroke-width="0.05">6,50</text>
<text x="959.00" y="450.83" font-size="12.5" font-weight="normal" text-anchor="start" fill="#2e2e2e" textLength="26.55" lengthAdjust="spacingAndGlyphs" stroke="#2e2e2e" stroke-width="0.05">6,50</text>
<text x="88.10" y="434.00" font-size="12.5" font-weight="normal" text-anchor="end" fill="#2e2e2e" textLength="27.4" lengthAdjust="spacingAndGlyphs" stroke="#2e2e2e" stroke-width="0.05">6,60</text>
<text x="959.00" y="434.00" font-size="12.5" font-weight="normal" text-anchor="start" fill="#2e2e2e" textLength="27.4" lengthAdjust="spacingAndGlyphs" stroke="#2e2e2e" stroke-width="0.05">6,60</text>
<text transform="translate(105.78,623.80) rotate(-60)" x="0" y="8.2" font-size="11.5" text-anchor="end" fill="#2e2e2e" stroke="#2e2e2e" stroke-width="0.2" textLength="28.8" lengthAdjust="spacingAndGlyphs">03/24</text>
<text transform="translate(122.03,623.80) rotate(-60)" x="0" y="8.2" font-size="11.5" text-anchor="end" fill="#2e2e2e" stroke="#2e2e2e" stroke-width="0.2" textLength="28.8" lengthAdjust="spacingAndGlyphs">04/24</text>
<text transform="translate(138.29,623.80) rotate(-60)" x="0" y="8.2" font-size="11.5" text-anchor="end" fill="#2e2e2e" stroke="#2e2e2e" stroke-width="0.2" textLength="28.8" lengthAdjust="spacingAndGlyphs">05/24</text>
<text transform="translate(154.55,623.80) rotate(-60)" x="0" y="8.2" font-size="11.5" text-anchor="end" fill="#2e2e2e" stroke="#2e2e2e" stroke-width="0.2" textLength="28.8" lengthAdjust="spacingAndGlyphs">06/24</text>
<text transform="translate(170.80,623.80) rotate(-60)" x="0" y="8.2" font-size="11.5" text-anchor="end" fill="#2e2e2e" stroke="#2e2e2e" stroke-width="0.2" textLength="28.8" lengthAdjust="spacingAndGlyphs">07/24</text>
<text transform="translate(187.06,623.80) rotate(-60)" x="0" y="8.2" font-size="11.5" text-anchor="end" fill="#2e2e2e" stroke="#2e2e2e" stroke-width="0.2" textLength="28.8" lengthAdjust="spacingAndGlyphs">08/24</text>
<text transform="translate(203.31,623.80) rotate(-60)" x="0" y="8.2" font-size="11.5" text-anchor="end" fill="#2e2e2e" stroke="#2e2e2e" stroke-width="0.2" textLength="28.8" lengthAdjust="spacingAndGlyphs">09/24</text>
<text transform="translate(219.57,623.80) rotate(-60)" x="0" y="8.2" font-size="11.5" text-anchor="end" fill="#2e2e2e" stroke="#2e2e2e" stroke-width="0.2" textLength="26.5" lengthAdjust="spacingAndGlyphs">10/24</text>
<text transform="translate(235.82,623.80) rotate(-60)" x="0" y="8.2" font-size="11.5" text-anchor="end" fill="#2e2e2e" stroke="#2e2e2e" stroke-width="0.2" textLength="23.4" lengthAdjust="spacingAndGlyphs">11/24</text>
<text transform="translate(252.08,623.80) rotate(-60)" x="0" y="8.2" font-size="11.5" text-anchor="end" fill="#2e2e2e" stroke="#2e2e2e" stroke-width="0.2" textLength="25.7" lengthAdjust="spacingAndGlyphs">12/24</text>
<text transform="translate(268.34,623.80) rotate(-60)" x="0" y="8.2" font-size="11.5" text-anchor="end" fill="#2e2e2e" stroke="#2e2e2e" stroke-width="0.2" textLength="25.7" lengthAdjust="spacingAndGlyphs">13/24</text>
<text transform="translate(284.59,623.80) rotate(-60)" x="0" y="8.2" font-size="11.5" text-anchor="end" fill="#2e2e2e" stroke="#2e2e2e" stroke-width="0.2" textLength="25.7" lengthAdjust="spacingAndGlyphs">14/24</text>
<text transform="translate(300.85,623.80) rotate(-60)" x="0" y="8.2" font-size="11.5" text-anchor="end" fill="#2e2e2e" stroke="#2e2e2e" stroke-width="0.2" textLength="25.7" lengthAdjust="spacingAndGlyphs">15/24</text>
<text transform="translate(317.10,623.80) rotate(-60)" x="0" y="8.2" font-size="11.5" text-anchor="end" fill="#2e2e2e" stroke="#2e2e2e" stroke-width="0.2" textLength="25.7" lengthAdjust="spacingAndGlyphs">16/24</text>
<text transform="translate(333.36,623.80) rotate(-60)" x="0" y="8.2" font-size="11.5" text-anchor="end" fill="#2e2e2e" stroke="#2e2e2e" stroke-width="0.2" textLength="25.7" lengthAdjust="spacingAndGlyphs">17/24</text>
<text transform="translate(349.61,623.80) rotate(-60)" x="0" y="8.2" font-size="11.5" text-anchor="end" fill="#2e2e2e" stroke="#2e2e2e" stroke-width="0.2" textLength="25.7" lengthAdjust="spacingAndGlyphs">18/24</text>
<text transform="translate(365.87,623.80) rotate(-60)" x="0" y="8.2" font-size="11.5" text-anchor="end" fill="#2e2e2e" stroke="#2e2e2e" stroke-width="0.2" textLength="25.7" lengthAdjust="spacingAndGlyphs">19/24</text>
<text transform="translate(382.13,623.80) rotate(-60)" x="0" y="8.2" font-size="11.5" text-anchor="end" fill="#2e2e2e" stroke="#2e2e2e" stroke-width="0.2" textLength="28.8" lengthAdjust="spacingAndGlyphs">20/24</text>
<text transform="translate(398.38,623.80) rotate(-60)" x="0" y="8.2" font-size="11.5" text-anchor="end" fill="#2e2e2e" stroke="#2e2e2e" stroke-width="0.2" textLength="25.7" lengthAdjust="spacingAndGlyphs">21/24</text>
<text transform="translate(414.64,623.80) rotate(-60)" x="0" y="8.2" font-size="11.5" text-anchor="end" fill="#2e2e2e" stroke="#2e2e2e" stroke-width="0.2" textLength="28.0" lengthAdjust="spacingAndGlyphs">22/24</text>
<text transform="translate(430.89,623.80) rotate(-60)" x="0" y="8.2" font-size="11.5" text-anchor="end" fill="#2e2e2e" stroke="#2e2e2e" stroke-width="0.2" textLength="28.0" lengthAdjust="spacingAndGlyphs">23/24</text>
<text transform="translate(447.15,623.80) rotate(-60)" x="0" y="8.2" font-size="11.5" text-anchor="end" fill="#2e2e2e" stroke="#2e2e2e" stroke-width="0.2" textLength="28.0" lengthAdjust="spacingAndGlyphs">24/24</text>
<text transform="translate(463.40,623.80) rotate(-60)" x="0" y="8.2" font-size="11.5" text-anchor="end" fill="#2e2e2e" stroke="#2e2e2e" stroke-width="0.2" textLength="28.0" lengthAdjust="spacingAndGlyphs">25/24</text>
<text transform="translate(479.66,623.80) rotate(-60)" x="0" y="8.2" font-size="11.5" text-anchor="end" fill="#2e2e2e" stroke="#2e2e2e" stroke-width="0.2" textLength="28.0" lengthAdjust="spacingAndGlyphs">26/24</text>
<text transform="translate(495.92,623.80) rotate(-60)" x="0" y="8.2" font-size="11.5" text-anchor="end" fill="#2e2e2e" stroke="#2e2e2e" stroke-width="0.2" textLength="28.0" lengthAdjust="spacingAndGlyphs">27/24</text>
<text transform="translate(512.17,623.80) rotate(-60)" x="0" y="8.2" font-size="11.5" text-anchor="end" fill="#2e2e2e" stroke="#2e2e2e" stroke-width="0.2" textLength="28.0" lengthAdjust="spacingAndGlyphs">28/24</text>
<text transform="translate(528.43,623.80) rotate(-60)" x="0" y="8.2" font-size="11.5" text-anchor="end" fill="#2e2e2e" stroke="#2e2e2e" stroke-width="0.2" textLength="28.0" lengthAdjust="spacingAndGlyphs">29/24</text>
<text transform="translate(544.68,623.80) rotate(-60)" x="0" y="8.2" font-size="11.5" text-anchor="end" fill="#2e2e2e" stroke="#2e2e2e" stroke-width="0.2" textLength="28.8" lengthAdjust="spacingAndGlyphs">30/24</text>
<text transform="translate(560.94,623.80) rotate(-60)" x="0" y="8.2" font-size="11.5" text-anchor="end" fill="#2e2e2e" stroke="#2e2e2e" stroke-width="0.2" textLength="25.7" lengthAdjust="spacingAndGlyphs">31/24</text>
<text transform="translate(577.20,623.80) rotate(-60)" x="0" y="8.2" font-size="11.5" text-anchor="end" fill="#2e2e2e" stroke="#2e2e2e" stroke-width="0.2" textLength="28.0" lengthAdjust="spacingAndGlyphs">32/24</text>
<text transform="translate(593.45,623.80) rotate(-60)" x="0" y="8.2" font-size="11.5" text-anchor="end" fill="#2e2e2e" stroke="#2e2e2e" stroke-width="0.2" textLength="28.0" lengthAdjust="spacingAndGlyphs">33/24</text>
<text transform="translate(609.71,623.80) rotate(-60)" x="0" y="8.2" font-size="11.5" text-anchor="end" fill="#2e2e2e" stroke="#2e2e2e" stroke-width="0.2" textLength="28.0" lengthAdjust="spacingAndGlyphs">34/24</text>
<text transform="translate(625.96,623.80) rotate(-60)" x="0" y="8.2" font-size="11.5" text-anchor="end" fill="#2e2e2e" stroke="#2e2e2e" stroke-width="0.2" textLength="28.0" lengthAdjust="spacingAndGlyphs">35/24</text>
<text transform="translate(642.22,623.80) rotate(-60)" x="0" y="8.2" font-size="11.5" text-anchor="end" fill="#2e2e2e" stroke="#2e2e2e" stroke-width="0.2" textLength="28.0" lengthAdjust="spacingAndGlyphs">36/24</text>
<text transform="translate(658.47,623.80) rotate(-60)" x="0" y="8.2" font-size="11.5" text-anchor="end" fill="#2e2e2e" stroke="#2e2e2e" stroke-width="0.2" textLength="28.0" lengthAdjust="spacingAndGlyphs">37/24</text>
<text transform="translate(674.73,623.80) rotate(-60)" x="0" y="8.2" font-size="11.5" text-anchor="end" fill="#2e2e2e" stroke="#2e2e2e" stroke-width="0.2" textLength="28.0" lengthAdjust="spacingAndGlyphs">38/24</text>
<text transform="translate(690.99,623.80) rotate(-60)" x="0" y="8.2" font-size="11.5" text-anchor="end" fill="#2e2e2e" stroke="#2e2e2e" stroke-width="0.2" textLength="28.0" lengthAdjust="spacingAndGlyphs">39/24</text>
<text transform="translate(707.24,623.80) rotate(-60)" x="0" y="8.2" font-size="11.5" text-anchor="end" fill="#2e2e2e" stroke="#2e2e2e" stroke-width="0.2" textLength="28.8" lengthAdjust="spacingAndGlyphs">40/24</text>
<text transform="translate(723.50,623.80) rotate(-60)" x="0" y="8.2" font-size="11.5" text-anchor="end" fill="#2e2e2e" stroke="#2e2e2e" stroke-width="0.2" textLength="25.7" lengthAdjust="spacingAndGlyphs">41/24</text>
<text transform="translate(739.75,623.80) rotate(-60)" x="0" y="8.2" font-size="11.5" text-anchor="end" fill="#2e2e2e" stroke="#2e2e2e" stroke-width="0.2" textLength="28.0" lengthAdjust="spacingAndGlyphs">42/24</text>
<text transform="translate(756.01,623.80) rotate(-60)" x="0" y="8.2" font-size="11.5" text-anchor="end" fill="#2e2e2e" stroke="#2e2e2e" stroke-width="0.2" textLength="28.0" lengthAdjust="spacingAndGlyphs">43/24</text>
<text transform="translate(772.26,623.80) rotate(-60)" x="0" y="8.2" font-size="11.5" text-anchor="end" fill="#2e2e2e" stroke="#2e2e2e" stroke-width="0.2" textLength="28.0" lengthAdjust="spacingAndGlyphs">44/24</text>
<text transform="translate(788.52,623.80) rotate(-60)" x="0" y="8.2" font-size="11.5" text-anchor="end" fill="#2e2e2e" stroke="#2e2e2e" stroke-width="0.2" textLength="28.0" lengthAdjust="spacingAndGlyphs">45/24</text>
<text transform="translate(804.78,623.80) rotate(-60)" x="0" y="8.2" font-size="11.5" text-anchor="end" fill="#2e2e2e" stroke="#2e2e2e" stroke-width="0.2" textLength="28.0" lengthAdjust="spacingAndGlyphs">46/24</text>
<text transform="translate(821.03,623.80) rotate(-60)" x="0" y="8.2" font-size="11.5" text-anchor="end" fill="#2e2e2e" stroke="#2e2e2e" stroke-width="0.2" textLength="28.0" lengthAdjust="spacingAndGlyphs">47/24</text>
<text transform="translate(837.29,623.80) rotate(-60)" x="0" y="8.2" font-size="11.5" text-anchor="end" fill="#2e2e2e" stroke="#2e2e2e" stroke-width="0.2" textLength="28.0" lengthAdjust="spacingAndGlyphs">48/24</text>
<text transform="translate(853.54,623.80) rotate(-60)" x="0" y="8.2" font-size="11.5" text-anchor="end" fill="#2e2e2e" stroke="#2e2e2e" stroke-width="0.2" textLength="28.0" lengthAdjust="spacingAndGlyphs">49/24</text>
<text transform="translate(869.80,623.80) rotate(-60)" x="0" y="8.2" font-size="11.5" text-anchor="end" fill="#2e2e2e" stroke="#2e2e2e" stroke-width="0.2" textLength="28.8" lengthAdjust="spacingAndGlyphs">50/24</text>
<text transform="translate(886.05,623.80) rotate(-60)" x="0" y="8.2" font-size="11.5" text-anchor="end" fill="#2e2e2e" stroke="#2e2e2e" stroke-width="0.2" textLength="25.7" lengthAdjust="spacingAndGlyphs">51/24</text>
<text transform="translate(902.31,623.80) rotate(-60)" x="0" y="8.2" font-size="11.5" text-anchor="end" fill="#2e2e2e" stroke="#2e2e2e" stroke-width="0.2" textLength="26.5" lengthAdjust="spacingAndGlyphs">01/25</text>
<text transform="translate(918.57,623.80) rotate(-60)" x="0" y="8.2" font-size="11.5" text-anchor="end" fill="#2e2e2e" stroke="#2e2e2e" stroke-width="0.2" textLength="28.8" lengthAdjust="spacingAndGlyphs">02/25</text>
<text transform="translate(934.82,623.80) rotate(-60)" x="0" y="8.2" font-size="11.5" text-anchor="end" fill="#2e2e2e" stroke="#2e2e2e" stroke-width="0.2" textLength="28.8" lengthAdjust="spacingAndGlyphs">03/25</text>
<circle cx="108.63" cy="596.38" r="4.9" fill="#4a9fd4"/>
<circle cx="124.88" cy="596.38" r="4.9" fill="#4a9fd4"/>
<circle cx="141.14" cy="596.38" r="4.9" fill="#4a9fd4"/>
<circle cx="157.40" cy="596.38" r="4.9" fill="#4a9fd4"/>
<circle cx="173.65" cy="598.57" r="4.9" fill="#4a9fd4"/>
<circle cx="189.91" cy="598.57" r="4.9" fill="#4a9fd4"/>
<circle cx="206.16" cy="598.57" r="4.9" fill="#4a9fd4"/>
<circle cx="222.42" cy="598.06" r="4.9" fill="#4a9fd4"/>
<circle cx="238.67" cy="595.54" r="4.9" fill="#4a9fd4"/>
<circle cx="254.93" cy="598.57" r="4.9" fill="#4a9fd4"/>
<circle cx="271.19" cy="598.06" r="4.9" fill="#4a9fd4"/>
<circle cx="287.44" cy="598.06" r="4.9" fill="#4a9fd4"/>
<circle cx="303.70" cy="598.06" r="4.9" fill="#4a9fd4"/>
<circle cx="319.95" cy="598.06" r="4.9" fill="#4a9fd4"/>
<circle cx="336.21" cy="597.39" r="4.9" fill="#4a9fd4"/>
<circle cx="352.46" cy="597.39" r="4.9" fill="#4a9fd4"/>
<circle cx="368.72" cy="597.39" r="4.9" fill="#4a9fd4"/>
<circle cx="384.98" cy="597.39" r="4.9" fill="#4a9fd4"/>
<circle cx="401.23" cy="597.39" r="4.9" fill="#4a9fd4"/>
<circle cx="417.49" cy="597.39" r="4.9" fill="#4a9fd4"/>
<circle cx="433.74" cy="597.39" r="4.9" fill="#4a9fd4"/>
<circle cx="450.00" cy="597.39" r="4.9" fill="#4a9fd4"/>
<circle cx="466.25" cy="597.39" r="4.9" fill="#4a9fd4"/>
<circle cx="482.51" cy="597.39" r="4.9" fill="#4a9fd4"/>
<circle cx="498.77" cy="597.39" r="4.9" fill="#4a9fd4"/>
<circle cx="515.02" cy="597.39" r="4.9" fill="#4a9fd4"/>
<circle cx="531.28" cy="597.39" r="4.9" fill="#4a9fd4"/>
<circle cx="547.53" cy="597.39" r="4.9" fill="#4a9fd4"/>
<circle cx="563.79" cy="597.39" r="4.9" fill="#4a9fd4"/>
<circle cx="580.05" cy="595.71" r="4.9" fill="#4a9fd4"/>
<circle cx="596.30" cy="592.34" r="4.9" fill="#4a9fd4"/>
<circle cx="612.56" cy="585.61" r="4.9" fill="#4a9fd4"/>
<circle cx="628.81" cy="580.56" r="4.9" fill="#4a9fd4"/>
<circle cx="645.07" cy="573.83" r="4.9" fill="#4a9fd4"/>
<circle cx="661.32" cy="567.10" r="4.9" fill="#4a9fd4"/>
<circle cx="677.58" cy="558.69" r="4.9" fill="#4a9fd4"/>
<circle cx="693.84" cy="550.27" r="4.9" fill="#4a9fd4"/>
<circle cx="710.09" cy="538.49" r="4.9" fill="#4a9fd4"/>
<circle cx="726.35" cy="529.24" r="4.9" fill="#4a9fd4"/>
<circle cx="742.60" cy="527.56" r="4.9" fill="#4a9fd4"/>
<circle cx="758.86" cy="527.56" r="4.9" fill="#4a9fd4"/>
<circle cx="775.11" cy="521.67" r="4.9" fill="#4a9fd4"/>
<circle cx="791.37" cy="518.30" r="4.9" fill="#4a9fd4"/>
<circle cx="807.63" cy="506.52" r="4.9" fill="#4a9fd4"/>
<circle cx="823.88" cy="496.43" r="4.9" fill="#4a9fd4"/>
<circle cx="840.14" cy="481.28" r="4.9" fill="#4a9fd4"/>
<circle cx="856.39" cy="469.50" r="4.9" fill="#4a9fd4"/>
<circle cx="872.65" cy="461.09" r="4.9" fill="#4a9fd4"/>
<circle cx="888.90" cy="459.41" r="4.9" fill="#4a9fd4"/>
<circle cx="905.16" cy="459.41" r="4.9" fill="#4a9fd4"/>
<circle cx="921.42" cy="448.47" r="4.9" fill="#4a9fd4"/>
<circle cx="937.67" cy="432.48" r="4.9" fill="#4a9fd4"/>
<circle cx="108.63" cy="595.71" r="4.9" fill="#0c3a5a"/>
<circle cx="124.88" cy="595.71" r="4.9" fill="#0c3a5a"/>
<circle cx="141.14" cy="595.71" r="4.9" fill="#0c3a5a"/>
<circle cx="157.40" cy="595.71" r="4.9" fill="#0c3a5a"/>
<circle cx="173.65" cy="597.89" r="4.9" fill="#0c3a5a"/>
<circle cx="189.91" cy="597.89" r="4.9" fill="#0c3a5a"/>
<circle cx="206.16" cy="597.89" r="4.9" fill="#0c3a5a"/>
<circle cx="222.42" cy="597.39" r="4.9" fill="#0c3a5a"/>
<circle cx="238.67" cy="596.55" r="4.9" fill="#0c3a5a"/>
<circle cx="254.93" cy="597.89" r="4.9" fill="#0c3a5a"/>
<circle cx="271.19" cy="597.39" r="4.9" fill="#0c3a5a"/>
<circle cx="287.44" cy="597.39" r="4.9" fill="#0c3a5a"/>
<circle cx="303.70" cy="597.39" r="4.9" fill="#0c3a5a"/>
<circle cx="319.95" cy="597.39" r="4.9" fill="#0c3a5a"/>
<circle cx="336.21" cy="597.39" r="4.9" fill="#0c3a5a"/>
<circle cx="352.46" cy="597.39" r="4.9" fill="#0c3a5a"/>
<circle cx="368.72" cy="597.39" r="4.9" fill="#0c3a5a"/>
<circle cx="384.98" cy="597.39" r="4.9" fill="#0c3a5a"/>
<circle cx="401.23" cy="597.39" r="4.9" fill="#0c3a5a"/>
<circle cx="417.49" cy="597.39" r="4.9" fill="#0c3a5a"/>
<circle cx="433.74" cy="597.39" r="4.9" fill="#0c3a5a"/>
<circle cx="450.00" cy="597.39" r="4.9" fill="#0c3a5a"/>
<circle cx="466.25" cy="597.39" r="4.9" fill="#0c3a5a"/>
<circle cx="482.51" cy="597.39" r="4.9" fill="#0c3a5a"/>
<circle cx="498.77" cy="597.39" r="4.9" fill="#0c3a5a"/>
<circle cx="515.02" cy="597.39" r="4.9" fill="#0c3a5a"/>
<circle cx="531.28" cy="597.39" r="4.9" fill="#0c3a5a"/>
<circle cx="547.53" cy="597.39" r="4.9" fill="#0c3a5a"/>
<circle cx="563.79" cy="597.39" r="4.9" fill="#0c3a5a"/>
<circle cx="580.05" cy="594.02" r="4.9" fill="#0c3a5a"/>
<circle cx="596.30" cy="590.66" r="4.9" fill="#0c3a5a"/>
<circle cx="612.56" cy="585.61" r="4.9" fill="#0c3a5a"/>
<circle cx="628.81" cy="580.56" r="4.9" fill="#0c3a5a"/>
<circle cx="645.07" cy="573.83" r="4.9" fill="#0c3a5a"/>
<circle cx="661.32" cy="567.10" r="4.9" fill="#0c3a5a"/>
<circle cx="677.58" cy="558.69" r="4.9" fill="#0c3a5a"/>
<circle cx="693.84" cy="546.91" r="4.9" fill="#0c3a5a"/>
<circle cx="710.09" cy="535.13" r="4.9" fill="#0c3a5a"/>
<circle cx="726.35" cy="528.40" r="4.9" fill="#0c3a5a"/>
<circle cx="742.60" cy="526.72" r="4.9" fill="#0c3a5a"/>
<circle cx="758.86" cy="526.72" r="4.9" fill="#0c3a5a"/>
<circle cx="775.11" cy="521.67" r="4.9" fill="#0c3a5a"/>
<circle cx="791.37" cy="518.30" r="4.9" fill="#0c3a5a"/>
<circle cx="807.63" cy="506.52" r="4.9" fill="#0c3a5a"/>
<circle cx="823.88" cy="493.06" r="4.9" fill="#0c3a5a"/>
<circle cx="840.14" cy="481.28" r="4.9" fill="#0c3a5a"/>
<circle cx="856.39" cy="469.50" r="4.9" fill="#0c3a5a"/>
<circle cx="872.65" cy="461.09" r="4.9" fill="#0c3a5a"/>
<circle cx="888.90" cy="459.41" r="4.9" fill="#0c3a5a"/>
<circle cx="905.16" cy="459.41" r="4.9" fill="#0c3a5a"/>
<circle cx="921.42" cy="445.94" r="4.9" fill="#0c3a5a"/>
<circle cx="937.67" cy="432.48" r="4.9" fill="#0c3a5a"/>
<text transform="translate(50.50,526.80) rotate(-90)" x="0" y="0" font-size="12.5" font-weight="bold" text-anchor="middle" fill="#111" textLength="119.5" lengthAdjust="spacingAndGlyphs">Precio (€/kg canal)</text>
<circle cx="292.9" cy="675.1" r="4.1" fill="#4a9fd4"/>
<text x="301.25" y="679.40" font-size="12.5" font-weight="bold" text-anchor="start" fill="#111" textLength="131.4" lengthAdjust="spacingAndGlyphs" >Ternera 261/300 kg U</text>
<circle cx="609.5" cy="675.1" r="4.1" fill="#0c3a5a"/>
<text x="618.30" y="679.40" font-size="12.5" font-weight="bold" text-anchor="start" fill="#111" textLength="128.9" lengthAdjust="spacingAndGlyphs" >Ternera 221/260 kg U</text>
<text x="915.10" y="679.40" font-size="12.5" font-weight="bold" text-anchor="start" fill="#111" textLength="49.4" lengthAdjust="spacingAndGlyphs" >Semana</text>
<text x="47.50" y="722.90" font-size="8.2" font-weight="normal" text-anchor="start" fill="#222" textLength="906.2" lengthAdjust="spacingAndGlyphs" >Aunque DSM ha puesto todo el cuidado para garantizar que la información aquí contenida es correcta y está actualizada, DSM no asume ninguna garantía acerca de la exactitud, fiabilidad o integridad de la información. Los datos aquí contenidos son para</text>
<text x="47.50" y="733.17" font-size="8.2" font-weight="normal" text-anchor="start" fill="#222" textLength="865.9" lengthAdjust="spacingAndGlyphs" >fines informativos y están destinados solamente para su uso en las empresas. Esta publicación no constituye ni proporciona asesoramiento científico o médico, diagnóstico o tratamiento y se distribuye sin garantía de ningún tipo, ni expresa ni</text>
<text x="47.50" y="743.44" font-size="8.2" font-weight="normal" text-anchor="start" fill="#222" textLength="893.7" lengthAdjust="spacingAndGlyphs" >implícitamente En ningún caso DSM será responsable de los daños derivados de la confianza del lector sobre, o el uso de estos datos. El lector será el único responsable de cualquier interpretación o el uso del material contenido en este documento El</text>
<text x="47.50" y="753.71" font-size="8.2" font-weight="normal" text-anchor="start" fill="#222" textLength="896.9" lengthAdjust="spacingAndGlyphs" >contenido de este documento está sujeto a cambios sin previo aviso. Póngase en contacto con su representante local de DSM para más detalles. Todas las marcas comerciales mencionadas en este folleto son marcas comerciales registradas o marcas</text>
<text x="47.50" y="763.98" font-size="8.2" font-weight="normal" text-anchor="start" fill="#222" textLength="202" lengthAdjust="spacingAndGlyphs" >comerciales de DSM en los Países Bajos y/u otros países.</text>
<text x="964.00" y="762.80" font-size="12.3" font-weight="normal" text-anchor="start" fill="#333" textLength="18.8" lengthAdjust="spacingAndGlyphs" >3/3</text>
</svg>
</body></html>
